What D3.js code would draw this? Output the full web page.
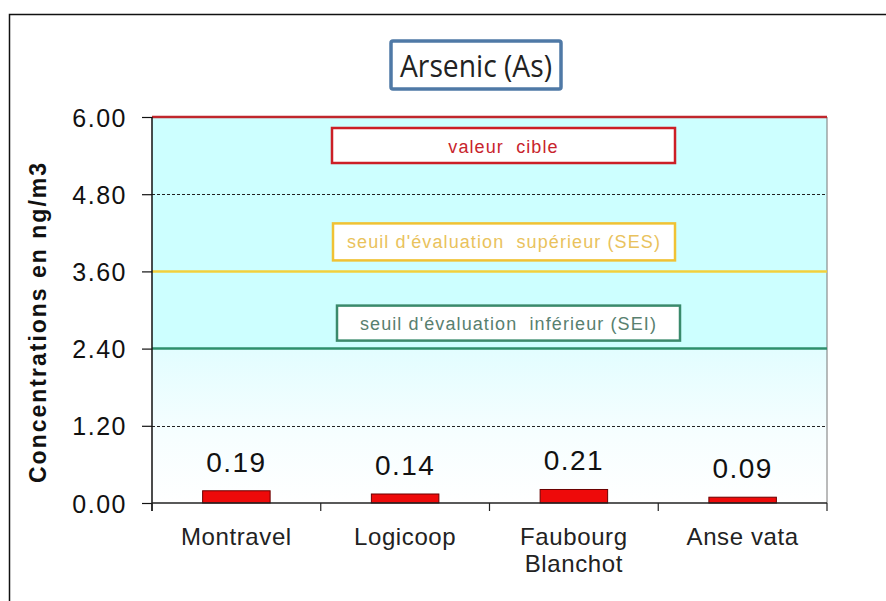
<!DOCTYPE html>
<html lang="fr">
<head>
  <meta charset="UTF-8">
  <title>Arsenic (As)</title>
  <script src="https://d3js.org/d3.v7.min.js"></script>
</head>
<body style="margin: 0; background: #fff;">
<div id="chart"></div>
<script>
  // data
  const sites = [["Montravel"], ["Logicoop"], ["Faubourg", "Blanchot"], ["Anse vata"]];
  const concentrations = [0.19, 0.14, 0.21, 0.09];
  const yTicks = [0, 1.2, 2.4, 3.6, 4.8, 6];
  const gridValues = [1.2, 4.8];
  const thresholdNames = ["valeur  cible", "seuil d'évaluation  supérieur (SES)", "seuil d'évaluation  inférieur (SEI)"];
  const thresholdValues = [6, 3.6, 2.4];

  const width = 886, height = 601;
  const margin = { top: 117, right: 59, bottom: 98, left: 152 };
  const innerW = width - margin.left - margin.right;
  const innerH = height - margin.top - margin.bottom;

  const svg = d3.select("#chart").append("svg")
    .attr("width", width)
    .attr("height", height)
    .style("display", "block");

  // outer frame (runs off the right and bottom edges)
  svg.append("rect")
    .attr("x", 9.5).attr("y", 14.5)
    .attr("width", width + 20).attr("height", height + 20)
    .attr("fill", "#fff")
    .attr("stroke", "#111")
    .attr("stroke-width", 1.5);

  const defs = svg.append("defs");
  const grad = defs.append("linearGradient")
    .attr("id", "lowFade")
    .attr("x1", 0).attr("y1", 0).attr("x2", 0).attr("y2", 1);
  grad.append("stop").attr("offset", "0%").attr("stop-color", "#e2fdff");
  grad.append("stop").attr("offset", "55%").attr("stop-color", "#f6feff");
  grad.append("stop").attr("offset", "100%").attr("stop-color", "#ffffff");

  const g = svg.append("g")
    .attr("transform", `translate(${margin.left},${margin.top})`);

  const x = d3.scaleBand()
    .domain(sites.map(d => d.join(" ")))
    .range([0, innerW])
    .paddingInner(0.6)
    .paddingOuter(0.3);

  const y = d3.scaleLinear().domain([0, 6]).range([innerH, 0]);

  // plot background: cyan above SEI, fading to white below
  g.append("rect")
    .attr("x", 0).attr("y", y(6))
    .attr("width", innerW).attr("height", y(2.4) - y(6))
    .attr("fill", "#cdffff");
  g.append("rect")
    .attr("x", 0).attr("y", y(2.4))
    .attr("width", innerW).attr("height", y(0) - y(2.4))
    .attr("fill", "url(#lowFade)");

  // right border of plot area
  g.append("line")
    .attr("x1", innerW).attr("x2", innerW)
    .attr("y1", y(6)).attr("y2", y(0))
    .attr("stroke", "#777").attr("stroke-width", 1);

  // dashed gridlines
  g.selectAll(".grid")
    .data(gridValues)
    .enter().append("line")
    .attr("class", "grid")
    .attr("x1", 0).attr("x2", innerW)
    .attr("y1", d => Math.round(y(d)) + 0.5)
    .attr("y2", d => Math.round(y(d)) + 0.5)
    .attr("stroke", "#222")
    .attr("stroke-dasharray", "3,2");

  // threshold lines + boxed labels
  const lineColors = ["#c0272d", "#f2d03c", "#2e8f6c"];
  const boxColors = ["#cc1f26", "#f0c234", "#3a8a6c"];
  const textColors = ["#c8242c", "#e9c25c", "#58806f"];
  const boxes = [
    { x0: 332, x1: 675, dy: 11, h: 35, base: 25 },
    { x0: 333, x1: 675, dy: -48, h: 37, base: 25 },
    { x0: 337, x1: 680, dy: -43, h: 35, base: 24 }
  ];

  g.selectAll(".threshold")
    .data(thresholdValues)
    .enter().append("line")
    .attr("class", "threshold")
    .attr("x1", 0).attr("x2", innerW)
    .attr("y1", d => y(d)).attr("y2", d => y(d))
    .attr("stroke", (d, i) => lineColors[i])
    .attr("stroke-width", 2.5);

  thresholdValues.forEach((v, i) => {
    const b = boxes[i];
    const top = y(v) + b.dy;
    svg.append("rect")
      .attr("x", b.x0).attr("y", margin.top + top)
      .attr("width", b.x1 - b.x0).attr("height", b.h)
      .attr("fill", "#fff")
      .attr("stroke", boxColors[i])
      .attr("stroke-width", 2.5);
    svg.append("text")
      .attr("x", (b.x0 + b.x1) / 2)
      .attr("y", margin.top + top + b.base)
      .attr("text-anchor", "middle")
      .attr("fill", textColors[i])
      .style("font-family", "'Liberation Sans', Arial, sans-serif")
      .style("font-size", "18px")
      .style("letter-spacing", "1.1px")
      .style("white-space", "pre")
      .text(thresholdNames[i]);
  });

  // bars
  const names = sites.map(d => d.join(" "));
  g.selectAll(".bar")
    .data(concentrations)
    .enter().append("rect")
    .attr("class", "bar")
    .attr("x", (d, i) => x(names[i]))
    .attr("y", d => y(d))
    .attr("width", x.bandwidth())
    .attr("height", d => y(0) - y(d))
    .attr("fill", "#ee0a0a")
    .attr("stroke", "#6a0000")
    .attr("stroke-width", 1);

  g.selectAll(".value")
    .data(concentrations)
    .enter().append("text")
    .attr("class", "value")
    .attr("x", (d, i) => x(names[i]) + x.bandwidth() / 2)
    .attr("y", d => y(d) - 19)
    .attr("text-anchor", "middle")
    .attr("fill", "#111")
    .style("font-family", "'Liberation Sans', Arial, sans-serif")
    .style("font-size", "28px")
    .style("letter-spacing", "1.5px")
    .text(d => d.toFixed(2));

  // y axis
  const yAxis = g.append("g")
    .call(d3.axisLeft(y).tickValues(yTicks).tickFormat(d3.format(".2f")).tickSize(10).tickPadding(15));
  yAxis.select(".domain").attr("d", `M0,${y(6)}V${innerH + 8}`).attr("stroke", "#111").attr("stroke-width", 1.5);
  yAxis.selectAll(".tick line").attr("stroke", "#111").attr("stroke-width", 1.2);
  yAxis.selectAll(".tick text")
    .attr("fill", "#111")
    .attr("dy", "0.36em")
    .style("font-family", "'Liberation Sans', Arial, sans-serif")
    .style("font-size", "25px")
    .style("letter-spacing", "1.5px");

  // x axis: ticks at band boundaries
  const xAxisG = g.append("g").attr("transform", `translate(0,${innerH})`);
  xAxisG.append("line")
    .attr("x1", 0).attr("x2", innerW)
    .attr("y1", 0).attr("y2", 0)
    .attr("stroke", "#222").attr("stroke-width", 1.5);
  const step = x.step();
  const boundaries = d3.range(names.length + 1).map(i => x(names[0]) - step * 0.3 + i * step);
  xAxisG.selectAll(".xtick")
    .data(boundaries)
    .enter().append("line")
    .attr("class", "xtick")
    .attr("x1", d => d).attr("x2", d => d)
    .attr("y1", 0).attr("y2", 8)
    .attr("stroke", "#222").attr("stroke-width", 1.2);

  sites.forEach((lines, i) => {
    const t = xAxisG.append("text")
      .attr("x", x(names[i]) + x.bandwidth() / 2)
      .attr("y", 42)
      .attr("text-anchor", "middle")
      .attr("fill", "#222")
      .style("font-family", "'Liberation Sans', Arial, sans-serif")
      .style("font-size", "24px")
      .style("letter-spacing", "0.6px");
    lines.forEach((l, j) => {
      t.append("tspan")
        .attr("x", x(names[i]) + x.bandwidth() / 2)
        .attr("dy", j === 0 ? 0 : 27)
        .text(l);
    });
  });

  // y axis title
  svg.append("text")
    .attr("transform", `translate(46,322) rotate(-90)`)
    .attr("text-anchor", "middle")
    .attr("fill", "#111")
    .style("font-family", "'Liberation Sans', Arial, sans-serif")
    .style("font-weight", "bold")
    .style("font-size", "23px")
    .style("letter-spacing", "2px")
    .text("Concentrations en ng/m3");

  // chart title box
  svg.append("rect")
    .attr("x", 391).attr("y", 41)
    .attr("width", 170).attr("height", 48)
    .attr("fill", "#fff")
    .attr("stroke", "#4f79a6")
    .attr("stroke-width", 3.5)
    .attr("rx", 2);
  svg.append("text")
    .attr("x", 476).attr("y", 77)
    .attr("text-anchor", "middle")
    .attr("fill", "#222")
    .attr("textLength", 152)
    .attr("lengthAdjust", "spacingAndGlyphs")
    .style("font-family", "'Open Sans', 'Liberation Sans', sans-serif")
    .style("font-size", "31px")
    .text("Arsenic (As)");
</script>
</body>
</html>
